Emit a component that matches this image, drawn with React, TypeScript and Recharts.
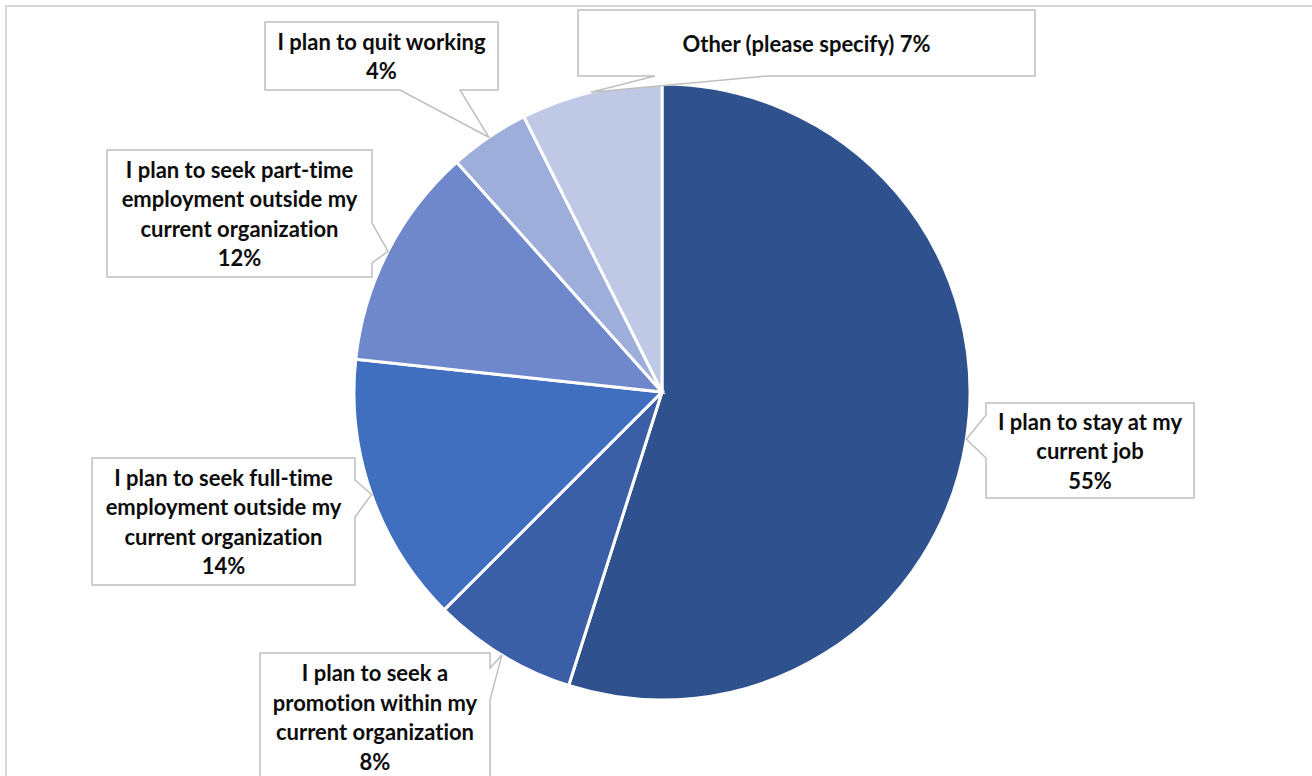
import { PieChart, Pie, Cell } from 'recharts';

// survey answers, clockwise from 12 o'clock
const categories = [
  'I plan to stay at my\ncurrent job',
  'I plan to seek a\npromotion within my\ncurrent organization',
  'I plan to seek full-time\nemployment outside my\ncurrent organization',
  'I plan to seek part-time\nemployment outside my\ncurrent organization',
  'I plan to quit working',
  'Other (please specify)',
];
const shares = [54.9, 7.6, 14.2, 11.7, 4.2, 7.4];
const inlinePct = [false, false, false, false, false, true];
const colors = ['#2F528F', '#3A5FA7', '#416FBF', '#6F88CB', '#9EAEDA', '#BFC8E4'];

// callout boxes (chart px) and which side the pointer leaves from
const callouts = [
  { x: 986, y: 403, w: 208, h: 95, side: 'left', b0: 415, b1: 458 },
  { x: 260, y: 653, w: 230, h: 128, side: 'right', b0: 668, b1: 700 },
  { x: 92, y: 458, w: 263, h: 127, side: 'right', b0: 480, b1: 517 },
  { x: 107, y: 150, w: 265, h: 127, side: 'right', b0: 223, b1: 263 },
  { x: 265, y: 22, w: 233, h: 68, side: 'bottom', b0: 400, b1: 460 },
  { x: 578, y: 10, w: 457, h: 66, side: 'bottom', b0: 655, b1: 767 },
];

const data = categories.map((name, i) => ({ name, value: shares[i], idx: i }));

const RAD = Math.PI / 180;

function calloutPath(c: any, tx: number, ty: number) {
  const { x, y, w, h, side, b0, b1 } = c;
  if (side === 'left')
    return `M${x},${y} H${x + w} V${y + h} H${x} V${b1} L${tx},${ty} L${x},${b0} Z`;
  if (side === 'right')
    return `M${x},${y} H${x + w} V${b0} L${tx},${ty} L${x + w},${b1} V${y + h} H${x} Z`;
  if (side === 'bottom')
    return `M${x},${y} H${x + w} V${y + h} H${b1} L${tx},${ty} L${b0},${y + h} H${x} Z`;
  return `M${x},${y} H${b0} L${tx},${ty} L${b1},${y} H${x + w} V${y + h} H${x} Z`;
}

function renderLabel(props: any) {
  const { cx, cy, midAngle, outerRadius, index, value } = props;
  const c = callouts[index];
  const tx = cx + outerRadius * Math.cos(-midAngle * RAD);
  const ty = cy + outerRadius * Math.sin(-midAngle * RAD);
  const pct = `${Math.round(value)}%`;
  const lines = categories[index].split('\n');
  if (inlinePct[index]) lines[lines.length - 1] += ' ' + pct;
  else lines.push(pct);
  const step = 29.5;
  const midX = c.x + c.w / 2;
  const firstY = c.y + c.h / 2 - ((lines.length - 1) * step) / 2;
  return (
    <g key={`lbl-${index}`}>
      <path d={calloutPath(c, tx, ty)} fill="#FFFFFF" stroke="#BFBFBF" strokeWidth={1.5} />
      <text
        x={midX}
        textAnchor="middle"
        fontFamily="Lato, 'Open Sans', sans-serif"
        fontWeight={700}
        fontSize={22}
        fill="#0D0D0D"
        style={{ fontVariantLigatures: 'none' }}
      >
        {lines.map((l, i) => (
          <tspan key={i} x={midX} y={firstY + i * step} dominantBaseline="central">
            {l}
          </tspan>
        ))}
      </text>
    </g>
  );
}

export default function App() {
  return (
    <div
      style={{
        position: 'absolute',
        left: 0,
        top: 0,
        width: 1312,
        height: 776,
        overflow: 'hidden',
        background: '#FFFFFF',
      }}
    >
      <div
        style={{
          position: 'absolute',
          left: 5,
          top: 5,
          width: 1340,
          height: 820,
          border: '2px solid #D9D9D9',
        }}
      />
      <div style={{ position: 'absolute', left: 0, top: 0 }}>
        <PieChart width={1312} height={776} margin={{ top: 0, right: 0, bottom: 0, left: 0 }}>
          <Pie
            data={data}
            dataKey="value"
            nameKey="name"
            cx={662}
            cy={392}
            outerRadius={308}
            startAngle={90}
            endAngle={-270}
            stroke="#FFFFFF"
            strokeWidth={3}
            label={renderLabel}
            labelLine={false}
            isAnimationActive={false}
          >
            {data.map((d) => (
              <Cell key={d.idx} fill={colors[d.idx]} />
            ))}
          </Pie>
        </PieChart>
      </div>
    </div>
  );
}
